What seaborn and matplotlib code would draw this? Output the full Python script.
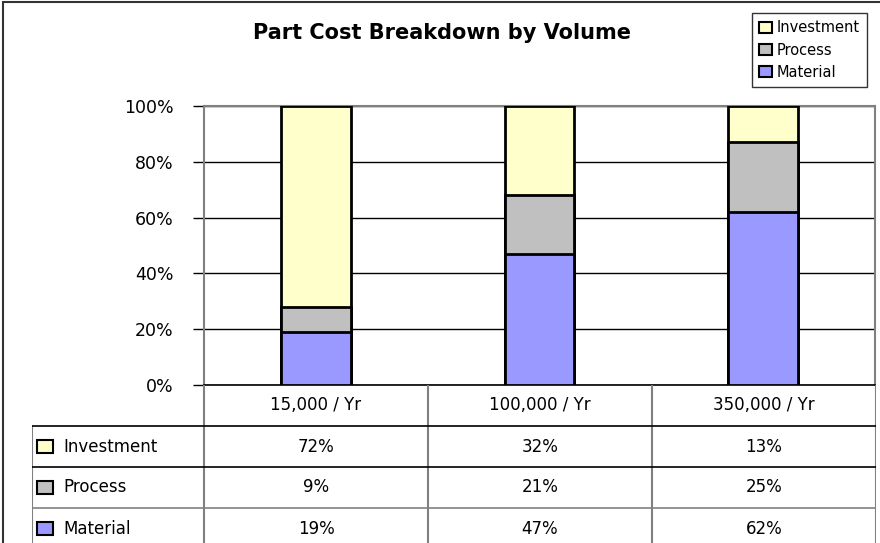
import numpy as np
import pandas as pd
import matplotlib.pyplot as plt
import seaborn as sns
from matplotlib.patches import Patch, Rectangle
from matplotlib.lines import Line2D

# data
volumes = ["15,000 / Yr", "100,000 / Yr", "350,000 / Yr"]
components = ["Investment", "Process", "Material"]
material = [19, 47, 62]
process = [9, 21, 25]
investment = [72, 32, 13]
yticks = [0, 20, 40, 60, 80, 100]
colors = {"Investment": "#FFFFCC", "Process": "#C0C0C0", "Material": "#9999FF"}

df = pd.DataFrame({"Volume": volumes, "Material": material,
                   "Process": process, "Investment": investment})
# cumulative tops for stacking
df["Material_top"] = df["Material"]
df["Process_top"] = df["Material"] + df["Process"]
df["Investment_top"] = df["Process_top"] + df["Investment"]

sns.set_style("white")
plt.rcParams["font.family"] = ["DejaVu Sans"]
plt.rcParams["text.color"] = "black"
plt.rcParams["ytick.labelcolor"] = "black"

W, H = 880, 543
fig = plt.figure(figsize=(W / 100, H / 100), dpi=100)

# ---- bar chart ----
ax = fig.add_axes([204 / W, 1 - 385 / H, (875 - 204) / W, (385 - 106) / H])
for comp in ["Investment", "Process", "Material"]:
    sns.barplot(data=df, x="Volume", y=comp + "_top", color=colors[comp],
                saturation=1, edgecolor="black", linewidth=2, width=0.31,
                ax=ax, zorder=3)

ax.set_ylim(0, 100)
ax.set_xlim(-0.5, 2.5)
ax.set_yticks(yticks)
ax.set_yticklabels([f"{t}%" for t in yticks])
ax.set_xticks([])
ax.set_xlabel("")
ax.set_ylabel("")
ax.yaxis.grid(True, color="black", linewidth=1)
ax.set_axisbelow(True)
ax.tick_params(axis="y", direction="out", length=8, width=1, color="black",
               pad=14, labelsize=12.5, left=True, labelcolor="black")
for s in ["left", "top", "right"]:
    ax.spines[s].set_color("#808080")
    ax.spines[s].set_linewidth(1.5)
ax.spines["bottom"].set_color("black")
ax.spines["bottom"].set_linewidth(1.2)

# ---- data table ----
label_w = 172 / 224
row_h = 41
tax = fig.add_axes([32 / W, 0, 844 / W, 158 / H])
tax.set_xlim(-label_w, 3)
tax.set_ylim(158 / row_h, 0)
tax.axis("off")
ybot = 158 / row_h

for i in range(4):
    tax.add_line(Line2D([i, i], [0, ybot], color="#808080", lw=1.5))
tax.add_line(Line2D([-label_w, -label_w], [1, ybot], color="#808080", lw=1.5))
tax.add_line(Line2D([-label_w, 3], [1, 1], color="black", lw=1.2))
tax.add_line(Line2D([-label_w, 3], [2, 2], color="black", lw=1.2))
tax.add_line(Line2D([-label_w, 3], [3, 3], color="#808080", lw=1.2))

for i, v in enumerate(volumes):
    tax.text(i + 0.5, 0.5, v, ha="center", va="center", fontsize=12)

rows = {"Investment": investment, "Process": process, "Material": material}
for r, comp in enumerate(components):
    yc = r + 1.5
    tax.add_patch(Rectangle((-label_w + 5 / 224, yc - 0.15), 16 / 224, 0.3,
                            facecolor=colors[comp], edgecolor="black", lw=1.5))
    tax.text(-label_w + 31 / 224, yc, comp, ha="left", va="center", fontsize=12)
    for i, val in enumerate(rows[comp]):
        tax.text(i + 0.5, yc, f"{val}%", ha="center", va="center", fontsize=12)

# ---- title, legend, border ----
fig.text(442 / W, 1 - 33 / H, "Part Cost Breakdown by Volume", ha="center",
         va="center", fontsize=15, fontweight="bold")

handles = [Patch(facecolor=colors[c], edgecolor="black", linewidth=1.5, label=c)
           for c in components]
leg = fig.legend(handles=handles, loc="upper left",
                 bbox_to_anchor=(752 / W, 1 - 13 / H), frameon=True,
                 fancybox=False, edgecolor="black", fontsize=10.5,
                 handlelength=0.9, handleheight=0.8, handletextpad=0.3,
                 labelspacing=0.5, borderpad=0.5, borderaxespad=0)
leg.get_frame().set_linewidth(1)

fig.add_artist(Rectangle((3 / W, -0.05), 1.1, 1.05 - 2 / H,
                         transform=fig.transFigure, fill=False,
                         edgecolor="#333333", lw=1.5))

plt.savefig("out.png", dpi=100)
